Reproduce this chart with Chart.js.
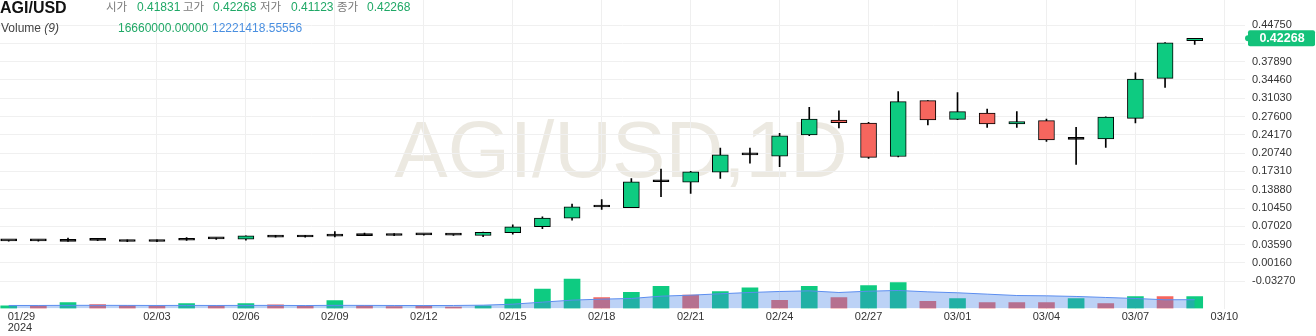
<!DOCTYPE html>
<html>
<head>
<meta charset="utf-8">
<script src="https://cdn.jsdelivr.net/npm/chart.js@4.4.1/dist/chart.umd.min.js"></script>
<style>
body { margin: 0; background: #fff; }
#wrap { position: relative; width: 1316px; height: 336px; font-family: "Liberation Sans", Arial, "Noto Sans CJK KR", sans-serif; }
#wrap canvas { position: absolute; left: 0; top: 0; }
.t { position: absolute; white-space: nowrap; font-size: 12px; line-height: 12px; }
.k { color: #7a7a7a; font-family: "Noto Sans CJK KR", sans-serif; font-size: 11.5px; top: 0; }
.g { color: #1fa866; }
</style>
</head>
<body>
<div id="wrap">
  <canvas id="myCandleChart" width="1316" height="336"></canvas>
  <div class="t" style="left:0;top:0;font-weight:bold;font-size:16px;line-height:16px;color:#111">AGI/USD</div>
  <div class="t k" style="left:106px">시가</div>
  <div class="t g" style="left:137px;top:1px">0.41831</div>
  <div class="t k" style="left:183px">고가</div>
  <div class="t g" style="left:213px;top:1px">0.42268</div>
  <div class="t k" style="left:260px">저가</div>
  <div class="t g" style="left:291px;top:1px">0.41123</div>
  <div class="t k" style="left:337px">종가</div>
  <div class="t g" style="left:367px;top:1px">0.42268</div>
  <div class="t" style="left:1px;top:22px;color:#444">Volume <i>(9)</i></div>
  <div class="t g" style="left:118px;top:22px">16660000.00000</div>
  <div class="t" style="left:212px;top:22px;color:#4a8fe0">12221418.55556</div>
</div>
<script>
// daily candles, 01/29 .. 03/09
const dates = ['01/29','01/30','01/31','02/01','02/02','02/03','02/04','02/05','02/06','02/07',
  '02/08','02/09','02/10','02/11','02/12','02/13','02/14','02/15','02/16','02/17',
  '02/18','02/19','02/20','02/21','02/22','02/23','02/24','02/25','02/26','02/27',
  '02/28','02/29','03/01','03/02','03/03','03/04','03/05','03/06','03/07','03/08','03/09']

const open = [0.0428,0.0428,0.0420,0.0445,0.0448,0.0446,0.0442,0.0468,0.0461,0.0530,
  0.0530,0.0518,0.0528,0.0560,0.0542,0.0540,0.0530,0.0585,0.0697,0.0855,
  0.1070,0.1054,0.1538,0.1530,0.1718,0.2040,0.2019,0.2413,0.2695,0.2638,
  0.2011,0.3057,0.2706,0.2826,0.2620,0.2682,0.2335,0.2338,0.2725,0.3476,0.41831]
const high = [0.0436,0.0445,0.0480,0.0450,0.0450,0.0448,0.0490,0.0480,0.0525,0.0535,
  0.0535,0.0604,0.0575,0.0568,0.0550,0.0548,0.0596,0.0729,0.0880,0.1117,
  0.1204,0.1599,0.1775,0.1735,0.2170,0.2170,0.2443,0.2931,0.2869,0.2650,
  0.3226,0.3060,0.3207,0.2901,0.2851,0.2714,0.2556,0.2755,0.3577,0.4145,0.42268]
const low = [0.0424,0.0425,0.0418,0.0432,0.0415,0.0416,0.0440,0.0455,0.0445,0.0498,
  0.0498,0.0505,0.0525,0.0525,0.0535,0.0530,0.0510,0.0554,0.0660,0.0817,
  0.1017,0.1050,0.1260,0.1317,0.1598,0.1888,0.1818,0.2400,0.2545,0.1974,
  0.2005,0.2601,0.2700,0.2556,0.2556,0.2293,0.1861,0.2180,0.2638,0.3307,0.41123]
const close = [0.0430,0.0430,0.0447,0.0440,0.0418,0.0418,0.0472,0.0466,0.0523,0.0500,
  0.0502,0.0547,0.0560,0.0530,0.0541,0.0538,0.0590,0.0692,0.0855,0.1067,
  0.1065,0.1537,0.1545,0.1724,0.2043,0.2045,0.2400,0.2714,0.2644,0.1993,
  0.3038,0.2695,0.2851,0.2620,0.2663,0.2320,0.2331,0.2751,0.3464,0.4140,0.42268]

// volume in millions, bar colour flag, and the 9-day average line
const volume = [3.8,4.2,8.3,5.6,4.2,3.2,6.9,4.2,6.9,5.1,
  3.2,11.1,4.2,2.8,3.2,1.8,3.7,12.9,26.8,40.7,
  15.3,22.6,30.6,18.5,23.6,28.7,11.5,30.6,15.3,31.9,
  36.1,10.1,13.9,8.3,8.3,8.3,13.9,6.9,16.7,16.7,16.66]
const volumeUp = [1,0,1,0,0,0,1,0,1,0, 0,1,0,0,0,0,1,1,1,1, 0,1,1,0,1,1,0,1,0,1, 1,0,1,0,0,0,1,0,1,0,1]
const volumeMa = [4.2,4.2,4.4,4.4,4.3,4.2,4.3,4.2,4.3,4.3,
  4.1,4.4,4.3,4.2,4.1,4.2,4.6,6.0,8.8,11.6,
  13.0,13.9,17.1,18.5,20.4,22.2,23.6,24.5,22.2,24.0,
  25.0,23.1,21.8,19.9,18.0,17.6,16.7,15.3,13.9,12.1,12.22]

const priceTicks = [-0.0327,0.0016,0.0359,0.0702,0.1045,0.1388,0.1731,0.2074,0.2417,0.2760,0.3103,0.3446,0.3789,0.4132,0.4475]
const xTickIdx = [0,5,8,11,14,17,20,23,26,29,32,35,38,41]
const xTickLabels = ['01/29','02/03','02/06','02/09','02/12','02/15','02/18','02/21','02/24','02/27','03/01','03/04','03/07','03/10']
const yearLabel = '2024'
const watermark = 'AGI/USD,1D'

const UP = '#0ecb81'
const DOWN = '#f6665e'
const FONT = '"Liberation Sans", Arial, sans-serif'

// bodies too thin to show their fill look black
function bodyColor(i) {
    if (Math.abs(close[i] - open[i]) < 0.0035) return '#000'
    return close[i] >= open[i] ? UP : DOWN
}

const extras = {
    id: 'extras',
    beforeDraw(chart) {
        const c = chart.ctx
        c.save()
        c.font = '80px ' + FONT
        c.fillStyle = '#ece9e1'
        c.textAlign = 'center'
        c.textBaseline = 'alphabetic'
        c.fillText(watermark, 621, 177)
        c.restore()
    },
    afterDraw(chart) {
        const c = chart.ctx
        const xs = chart.scales.x
        const ys = chart.scales.y
        c.save()
        c.font = '11px ' + FONT
        c.fillStyle = '#333'
        c.textBaseline = 'middle'
        xTickIdx.forEach((v, i) => {
            const px = xs.getPixelForValue(v)
            if (i === 0) {
                c.textAlign = 'left'
                c.fillText(xTickLabels[i], px - 1, 317)
                c.fillText(yearLabel, px - 1, 328)
            } else {
                c.textAlign = 'center'
                c.fillText(xTickLabels[i], px, 317)
            }
        })
        // last price tag
        const last = close[close.length - 1]
        const py = ys.getPixelForValue(last)
        c.fillStyle = '#13c27a'
        c.beginPath()
        c.roundRect(1248, py - 8, 67, 16, 2)
        c.fill()
        c.beginPath()
        c.arc(1248, py, 3, 0, Math.PI * 2)
        c.fill()
        c.fillStyle = '#fff'
        c.font = 'bold 12.5px ' + FONT
        c.textAlign = 'center'
        c.fillText(last.toFixed(5), 1282, py + 0.5)
        c.restore()
    }
}

const idx = dates.map((d, i) => i)

const ctx = document.getElementById('myCandleChart').getContext('2d')
const chart = new Chart(ctx, {
    type: 'bar',
    data: {
        datasets: [
            {
                label: 'body',
                data: idx.map(i => ({ x: i, y: [open[i], close[i]] })),
                backgroundColor: idx.map(bodyColor),
                borderColor: '#000',
                borderWidth: 1,
                borderSkipped: false,
                minBarLength: 2,
                barThickness: 16,
                grouped: false,
                yAxisID: 'y',
                order: 1
            },
            {
                label: 'wick',
                data: idx.map(i => ({ x: i, y: [low[i], high[i]] })),
                backgroundColor: '#000',
                barThickness: 1,
                grouped: false,
                yAxisID: 'y',
                order: 2
            },
            {
                type: 'line',
                label: 'ma',
                data: idx.map(i => ({ x: i, y: volumeMa[i] })),
                borderColor: '#5b8def',
                borderWidth: 1,
                backgroundColor: 'rgba(70,130,230,0.36)',
                fill: 'origin',
                pointRadius: 0,
                tension: 0,
                yAxisID: 'yVol',
                order: 3
            },
            {
                label: 'volume',
                data: idx.map(i => ({ x: i, y: volume[i] })),
                backgroundColor: idx.map(i => volumeUp[i] ? UP : DOWN),
                barThickness: 16,
                grouped: false,
                yAxisID: 'yVol',
                order: 4
            }
        ]
    },
    options: {
        responsive: false,
        animation: false,
        layout: { padding: 0 },
        plugins: {
            legend: { display: false },
            tooltip: { enabled: false }
        },
        scales: {
            x: {
                type: 'linear',
                min: -0.2934,
                max: 41.696,
                offset: false,
                grid: {
                    offset: false,
                    drawTicks: false,
                    color: c => (c.tick && c.tick.value === 0) ? 'rgba(0,0,0,0)' : '#efefef'
                },
                border: { display: false },
                ticks: { display: false },
                afterBuildTicks: s => { s.ticks = xTickIdx.map(v => ({ value: v })) },
                afterFit: s => { s.height = 27.5; s.paddingLeft = 0; s.paddingRight = 0 }
            },
            y: {
                position: 'right',
                min: -0.0838,
                max: 0.4944,
                grid: { drawTicks: false, color: '#f0f0f0' },
                border: { display: false },
                afterBuildTicks: s => { s.ticks = priceTicks.map(v => ({ value: v })) },
                ticks: {
                    padding: 7,
                    color: '#333',
                    font: { family: FONT, size: 11 },
                    callback: v => v.toFixed(5)
                },
                afterFit: s => { s.width = 71; s.paddingTop = 0; s.paddingBottom = 0 }
            },
            yVol: {
                display: false,
                min: 0,
                max: 428
            }
        }
    },
    plugins: [extras]
})
</script>
</body>
</html>
